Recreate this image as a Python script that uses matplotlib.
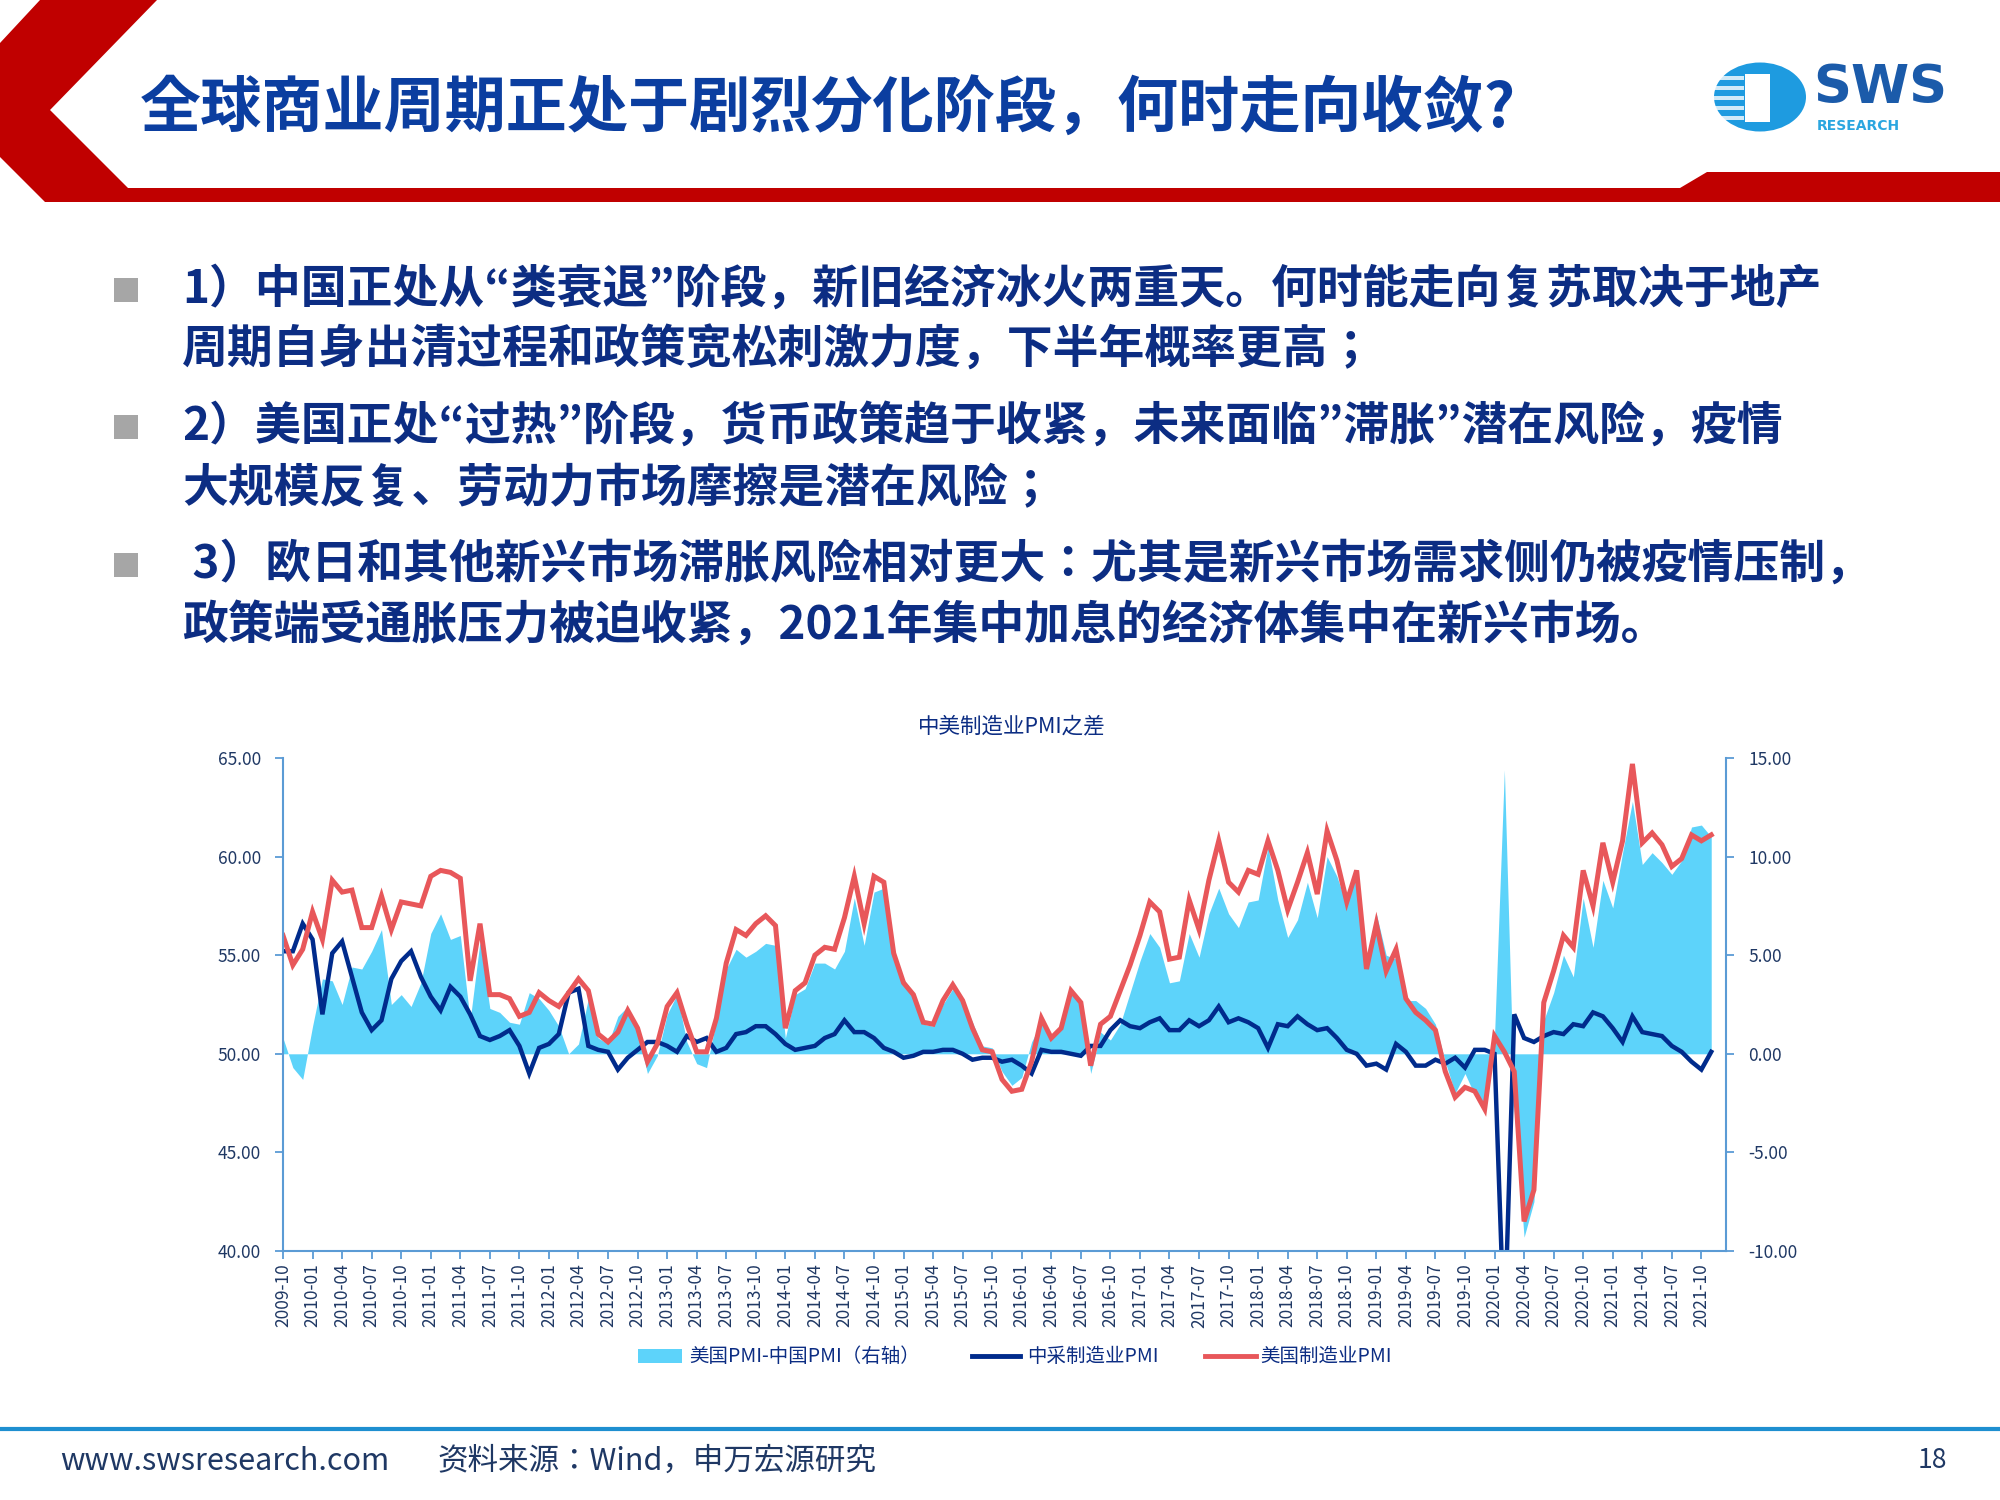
import matplotlib
matplotlib.use("Agg")
import matplotlib.pyplot as plt
from matplotlib.patches import Polygon, Rectangle, Circle
from matplotlib import font_manager
import numpy as np

# ---------------- data ----------------
start_year, start_month = 2009, 10
china_pmi = [
    55.2, 55.2, 56.6,
    55.8, 52.0, 55.1, 55.7, 53.9, 52.1, 51.2, 51.7, 53.8, 54.7, 55.2, 53.9,
    52.9, 52.2, 53.4, 52.9, 52.0, 50.9, 50.7, 50.9, 51.2, 50.4, 49.0, 50.3,
    50.5, 51.0, 53.1, 53.3, 50.4, 50.2, 50.1, 49.2, 49.8, 50.2, 50.6, 50.6,
    50.4, 50.1, 50.9, 50.6, 50.8, 50.1, 50.3, 51.0, 51.1, 51.4, 51.4, 51.0,
    50.5, 50.2, 50.3, 50.4, 50.8, 51.0, 51.7, 51.1, 51.1, 50.8, 50.3, 50.1,
    49.8, 49.9, 50.1, 50.1, 50.2, 50.2, 50.0, 49.7, 49.8, 49.8, 49.6, 49.7,
    49.4, 49.0, 50.2, 50.1, 50.1, 50.0, 49.9, 50.4, 50.4, 51.2, 51.7, 51.4,
    51.3, 51.6, 51.8, 51.2, 51.2, 51.7, 51.4, 51.7, 52.4, 51.6, 51.8, 51.6,
    51.3, 50.3, 51.5, 51.4, 51.9, 51.5, 51.2, 51.3, 50.8, 50.2, 50.0, 49.4,
    49.5, 49.2, 50.5, 50.1, 49.4, 49.4, 49.7, 49.5, 49.8, 49.3, 50.2, 50.2,
    50.0, 35.7, 52.0, 50.8, 50.6, 50.9, 51.1, 51.0, 51.5, 51.4, 52.1, 51.9,
    51.3, 50.6, 51.9, 51.1, 51.0, 50.9, 50.4, 50.1, 49.6, 49.2, 50.1,
]
us_pmi = [
    56.0, 54.5, 55.3,
    57.2, 55.8, 58.8, 58.2, 58.3, 56.4, 56.4, 58.0, 56.3, 57.7, 57.6, 57.5,
    59.0, 59.3, 59.2, 58.9, 53.7, 56.6, 53.0, 53.0, 52.8, 51.9, 52.1, 53.1,
    52.7, 52.4, 53.1, 53.8, 53.2, 51.0, 50.6, 51.1, 52.2, 51.3, 49.6, 50.5,
    52.4, 53.1, 51.5, 50.1, 50.1, 51.8, 54.6, 56.3, 56.0, 56.6, 57.0, 56.5,
    51.3, 53.2, 53.6, 55.0, 55.4, 55.3, 56.9, 59.0, 56.6, 59.0, 58.7, 55.1,
    53.6, 53.0, 51.6, 51.5, 52.7, 53.5, 52.7, 51.3, 50.2, 50.1, 48.7, 48.1,
    48.2, 49.6, 51.8, 50.8, 51.3, 53.2, 52.6, 49.4, 51.5, 51.9, 53.2, 54.5,
    56.0, 57.7, 57.2, 54.8, 54.9, 57.8, 56.3, 58.8, 60.8, 58.7, 58.2, 59.3,
    59.1, 60.8, 59.3, 57.3, 58.7, 60.2, 58.1, 61.3, 59.8, 57.7, 59.3, 54.3,
    56.6, 54.2, 55.3, 52.8, 52.1, 51.7, 51.2, 49.1, 47.8, 48.3, 48.1, 47.2,
    50.9, 50.1, 49.1, 41.5, 43.1, 52.6, 54.2, 56.0, 55.4, 59.3, 57.5, 60.7,
    58.7, 60.8, 64.7, 60.7, 61.2, 60.6, 59.5, 59.9, 61.1, 60.8, 61.1,
]
left_ticks = [40, 45, 50, 55, 60, 65]
right_ticks = [-10, -5, 0, 5, 10, 15]

title = "全球商业周期正处于剧烈分化阶段，何时走向收敛?"
bullets = [
    ("1）中国正处从“类衰退”阶段，新旧经济冰火两重天。何时能走向复苏取决于地产",
     "周期自身出清过程和政策宽松刺激力度，下半年概率更高；"),
    ("2）美国正处“过热”阶段，货币政策趋于收紧，未来面临”滞胀”潜在风险，疫情",
     "大规模反复、劳动力市场摩擦是潜在风险；"),
    (" 3）欧日和其他新兴市场滞胀风险相对更大：尤其是新兴市场需求侧仍被疫情压制，",
     "政策端受通胀压力被迫收紧，2021年集中加息的经济体集中在新兴市场。"),
]
chart_title = "中美制造业PMI之差"
legend_labels = ["美国PMI-中国PMI（右轴）", "中采制造业PMI", "美国制造业PMI"]

# ---------------- derived ----------------
n = len(china_pmi)
x = np.arange(n)
cn = np.array(china_pmi)
us = np.array(us_pmi)
diff = us - cn
labels = []
for i in range(n):
    m = start_month - 1 + i
    labels.append(f"{start_year + m // 12}-{m % 12 + 1:02d}")

avail = {f.name for f in font_manager.fontManager.ttflist}
cands = [c for c in ["Noto Sans CJK SC", "Noto Sans CJK JP", "Noto Sans CJK TC",
                     "Noto Sans CJK KR"] if c in avail]
CJK = cands + ["DejaVu Sans"]
plt.rcParams["font.family"] = CJK

W, H = 2000, 1500
fig = plt.figure(figsize=(20, 15), dpi=100)
fig.patch.set_facecolor("white")

def px(xp, yp):
    return (xp / W, 1 - yp / H)

# ---------------- header ----------------
red = "#C00000"
poly = [(40, 0), (157, 0), (50, 110), (128, 188), (1680, 188), (1707, 172),
        (2000, 172), (2000, 202), (45, 202), (0, 157), (0, 43)]
fig.patches.append(Polygon([px(a, b) for a, b in poly], closed=True,
                           transform=fig.transFigure, facecolor=red, edgecolor="none"))
fig.text(*px(140, 110), title, fontsize=44, fontweight="bold", color="#0B3EA0",
         va="center", ha="left")

# logo
cx, cy = px(1760, 97)
fig.patches.append(Circle((cx, cy), 46 / W, transform=fig.transFigure,
                          facecolor="#1E9BE0", edgecolor="none"))
fig.patches.append(Rectangle(px(1745, 122), 25 / W, 48 / H, transform=fig.transFigure,
                             facecolor="white", edgecolor="none"))
for k in range(5):
    fig.patches.append(Rectangle(px(1714, 80 + k * 10), 30 / W, 4 / H,
                                 transform=fig.transFigure, facecolor="white",
                                 edgecolor="none", alpha=0.8))
fig.text(*px(1813, 88), "SWS", fontsize=38, fontweight="black", color="#1B5BAA",
         family="DejaVu Sans", va="center", ha="left")
fig.text(*px(1817, 126), "RESEARCH", fontsize=10, fontweight="bold", color="#2BA6E0",
         family="DejaVu Sans", va="center", ha="left")

# ---------------- bullets ----------------
line_y = [(290, 351), (427, 489), (565, 626)]
for (l1, l2), (y1, y2) in zip(bullets, line_y):
    fig.patches.append(Rectangle(px(114, y1 + 12), 24 / W, 24 / H,
                                 transform=fig.transFigure, facecolor="#A6A6A6",
                                 edgecolor="none"))
    fig.text(*px(182, y1), l1, fontsize=33, fontweight="bold", color="#0C2D83",
             va="center", ha="left")
    fig.text(*px(182, y2), l2, fontsize=33, fontweight="bold", color="#0C2D83",
             va="center", ha="left")

# ---------------- chart ----------------
L, R, T, B = 283, 1726, 758, 1251
ax = fig.add_axes([L / W, 1 - B / H, (R - L) / W, (B - T) / H])
ax2 = ax.twinx()
ax.set_zorder(ax2.get_zorder() + 1)
ax.patch.set_visible(False)

area_c = "#5DD3FA"
navy = "#002B8C"
redl = "#E8575A"
spine_c = "#5B9BD5"
tick_c = "#1F3864"

ax2.fill_between(x, 0, diff, color=area_c, linewidth=0)
ax2.set_ylim(-10, 15)
ax2.set_yticks(right_ticks)
ax2.set_yticklabels([f"{v:.2f}" for v in right_ticks])

ax.plot(x, cn, color=navy, lw=3.2, solid_joinstyle="miter")
ax.plot(x, us, color=redl, lw=3.6, solid_joinstyle="miter")
ax.set_ylim(40, 65)
ax.set_yticks(left_ticks)
ax.set_yticklabels([f"{v:.2f}" for v in left_ticks])
ax.set_xlim(0, 146.5)
ax.set_xticks(x[::3])
ax.set_xticklabels(labels[::3], rotation=90)

for a in (ax, ax2):
    a.spines["top"].set_visible(False)
    for s in ("left", "right", "bottom"):
        a.spines[s].set_color(spine_c)
        a.spines[s].set_linewidth(1.5)
    a.tick_params(colors=spine_c, labelcolor=tick_c, labelsize=12.5, length=6, width=1.3)
ax.spines["right"].set_visible(False)
ax2.spines["left"].set_visible(False)
ax2.spines["bottom"].set_visible(False)
ax.tick_params(axis="y", pad=10)
ax2.tick_params(axis="y", pad=10)
ax.tick_params(axis="x", pad=3)

fig.text(*px(1012, 726), chart_title, fontsize=15.5, color="#0C2D83",
         ha="center", va="center")

# legend
ly = 1356
fig.patches.append(Rectangle(px(638, ly + 7), 44 / W, 14 / H, transform=fig.transFigure,
                             facecolor=area_c, edgecolor="none"))
fig.text(*px(689, ly), legend_labels[0], fontsize=14, color="#0C2D83",
         va="center", ha="left")
fig.lines.append(plt.Line2D([972 / W, 1020 / W], [1 - ly / H] * 2, color=navy, lw=3.5,
                            transform=fig.transFigure))
fig.text(*px(1027, ly), legend_labels[1], fontsize=14, color="#0C2D83",
         va="center", ha="left")
fig.lines.append(plt.Line2D([1205 / W, 1256 / W], [1 - ly / H] * 2, color=redl, lw=3.5,
                            transform=fig.transFigure))
fig.text(*px(1260, ly), legend_labels[2], fontsize=14, color="#0C2D83",
         va="center", ha="left")

# ---------------- footer ----------------
fig.lines.append(plt.Line2D([0, 1], [1 - 1429 / H] * 2, color="#1E8FD0", lw=3,
                            transform=fig.transFigure))
fig.text(*px(60, 1461), "www.swsresearch.com", fontsize=22, color="#1F3864",
         va="center", ha="left")
fig.text(*px(437, 1461), "资料来源：Wind，申万宏源研究", fontsize=22, color="#1F3864",
         va="center", ha="left")
fig.text(*px(1932, 1461), "18", fontsize=19, color="#1F3864",
         va="center", ha="center")

fig.savefig("out.png", dpi=100)
